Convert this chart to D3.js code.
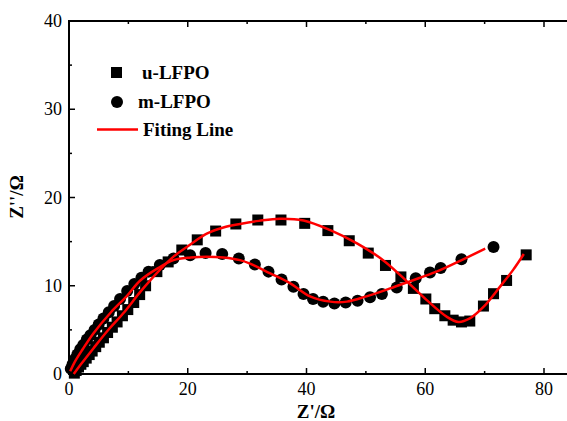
<!DOCTYPE html>
<html lang="en">
<head>
<meta charset="UTF-8">
<title>Nyquist plot</title>
<script src="https://cdnjs.cloudflare.com/ajax/libs/d3/7.8.5/d3.min.js"></script>
<style>
    body { margin: 0; background: #fff; }
    svg { display: block; }
    .tick-label { font-family: 'Liberation Serif', 'Times New Roman', serif; font-size: 18px; fill: #000; }
    .title { font-family: 'Liberation Serif', 'Times New Roman', serif; font-size: 19px; font-weight: bold; fill: #000; }
    .legend { font-family: 'Liberation Serif', 'Times New Roman', serif; font-size: 19px; font-weight: bold; fill: #000; }
</style>
</head>
<body>
<div id="chart"></div>
<script>
    // u-LFPO measured points (squares)
    const uX = [0.9, 1.2, 1.6, 2.0, 2.4, 2.9, 3.4, 3.9, 4.5, 5.1, 5.8, 6.5, 7.3, 8.1, 9.0, 9.9, 10.9, 11.9, 12.9, 14.8, 16.7, 19.0, 21.6, 24.7, 28.1, 31.8, 35.7, 39.7, 43.6, 47.2, 50.4, 53.3, 55.9, 58.0, 60.1, 61.6, 63.3, 64.7, 66.1, 67.5, 69.8, 71.5, 73.7, 77.0];
    const uY = [0.1, 0.4, 0.8, 1.1, 1.4, 1.8, 2.2, 2.6, 3.1, 3.6, 4.1, 4.7, 5.3, 5.9, 6.6, 7.3, 8.1, 9.0, 10.0, 11.6, 12.7, 14.05, 15.2, 16.2, 17.0, 17.45, 17.45, 17.07, 16.25, 15.1, 13.7, 12.3, 11.0, 9.7, 8.5, 7.4, 6.6, 6.1, 5.9, 6.0, 7.7, 9.1, 10.6, 13.5];

    // m-LFPO measured points (circles)
    const mX = [0.3, 0.6, 1.0, 1.4, 1.9, 2.4, 3.0, 3.6, 4.3, 5.0, 5.8, 6.7, 7.6, 8.6, 9.8, 11.0, 12.2, 13.4, 15.3, 17.6, 20.4, 23.0, 25.8, 28.6, 31.3, 33.6, 35.8, 37.8, 39.5, 41.1, 42.8, 44.7, 46.6, 48.6, 50.7, 52.7, 55.2, 58.4, 60.8, 62.6, 66.1, 71.5];
    const mY = [0.6, 1.1, 1.7, 2.2, 2.8, 3.3, 3.9, 4.4, 5.0, 5.6, 6.3, 7.0, 7.7, 8.5, 9.4, 10.2, 10.9, 11.6, 12.35, 13.1, 13.45, 13.7, 13.6, 13.1, 12.4, 11.6, 10.7, 9.9, 9.06, 8.5, 8.2, 8.0, 8.1, 8.3, 8.7, 9.06, 9.8, 10.85, 11.5, 12.0, 13.0, 14.4];

    // fitting lines
    const uFitX = [0.8, 2, 4.1, 6.5, 9.3, 12, 15.3, 17.6, 20.5, 23.2, 26, 28.8, 32, 35.5, 39.5, 44, 48.5, 52.9, 56.9, 60.2, 63.6, 65.6, 67.5, 69.8, 72.6, 74.8, 76.6];
    const uFitY = [0, 1.1, 2.9, 4.9, 7.0, 9.3, 11.8, 13.3, 14.7, 15.9, 16.6, 17.0, 17.35, 17.6, 17.4, 16.3, 14.8, 12.9, 10.5, 8.4, 6.5, 5.9, 6.3, 7.6, 9.9, 11.8, 13.6];
    const mFitX = [0.2, 1, 2.3, 4.1, 7.07, 9.7, 12, 15, 17.6, 20.5, 23.2, 26, 28.8, 30.5, 33.9, 37.2, 40.6, 44, 46.8, 50.1, 54.1, 57.4, 61.9, 66.4, 70.1];
    const mFitY = [0.3, 1.4, 2.8, 4.6, 7.0, 8.8, 10.6, 12.0, 12.9, 13.2, 13.3, 13.2, 12.9, 12.5, 11.4, 10.3, 8.8, 8.2, 8.2, 8.8, 9.7, 10.5, 11.6, 13.0, 14.2];

    const xMajor = [0, 20, 40, 60, 80];
    const xMinor = [10, 30, 50, 70];
    const yMajor = [0, 10, 20, 30, 40];
    const yMinor = [5, 15, 25, 35];

    const W = 567, H = 421;
    const plotLeft = 69, plotTop = 21, plotBottom = 374;
    const plotRight = plotLeft + 5.9375 * 90;

    const x = d3.scaleLinear().domain([0, 90]).range([plotLeft, plotRight]);
    const y = d3.scaleLinear().domain([0, 40]).range([plotBottom, plotTop]);

    const svg = d3.select("#chart").append("svg")
        .attr("width", W).attr("height", H);

    // frame
    svg.append("rect")
        .attr("x", plotLeft).attr("y", plotTop)
        .attr("width", plotRight - plotLeft).attr("height", plotBottom - plotTop)
        .attr("fill", "none").attr("stroke", "#000").attr("stroke-width", 2);

    // ticks (inward)
    const ticks = svg.append("g").attr("stroke", "#000").attr("stroke-width", 1.5);
    xMajor.forEach(v => {
        ticks.append("line").attr("x1", x(v)).attr("x2", x(v)).attr("y1", plotBottom).attr("y2", plotBottom - 6);
        ticks.append("line").attr("x1", x(v)).attr("x2", x(v)).attr("y1", plotTop).attr("y2", plotTop + 6);
    });
    xMinor.forEach(v => {
        ticks.append("line").attr("x1", x(v)).attr("x2", x(v)).attr("y1", plotBottom).attr("y2", plotBottom - 3);
        ticks.append("line").attr("x1", x(v)).attr("x2", x(v)).attr("y1", plotTop).attr("y2", plotTop + 3);
    });
    yMajor.forEach(v => {
        ticks.append("line").attr("x1", plotLeft).attr("x2", plotLeft + 6).attr("y1", y(v)).attr("y2", y(v));
    });
    yMinor.forEach(v => {
        ticks.append("line").attr("x1", plotLeft).attr("x2", plotLeft + 3).attr("y1", y(v)).attr("y2", y(v));
    });

    // tick labels
    svg.selectAll(".xl").data(xMajor).enter().append("text")
        .attr("class", "tick-label")
        .attr("x", d => x(d)).attr("y", 395)
        .attr("text-anchor", "middle")
        .text(d => d);
    svg.selectAll(".yl").data(yMajor).enter().append("text")
        .attr("class", "tick-label")
        .attr("x", 62).attr("y", d => y(d) + 6)
        .attr("text-anchor", "end")
        .text(d => d);

    // axis titles
    svg.append("text").attr("class", "title")
        .attr("x", 316).attr("y", 418)
        .attr("text-anchor", "middle")
        .text("Z'/\u03A9");
    svg.append("text").attr("class", "title")
        .attr("transform", "translate(23,197) rotate(-90)")
        .attr("text-anchor", "middle")
        .text("Z''/\u03A9");

    const plot = svg.append("g");

    const u = uX.map((v, i) => [v, uY[i]]);
    const m = mX.map((v, i) => [v, mY[i]]);
    const uFit = uFitX.map((v, i) => [v, uFitY[i]]);
    const mFit = mFitX.map((v, i) => [v, mFitY[i]]);

    // markers
    const sq = 11;
    plot.selectAll(".sq").data(u).enter().append("rect")
        .attr("x", d => x(d[0]) - sq / 2).attr("y", d => y(d[1]) - sq / 2)
        .attr("width", sq).attr("height", sq)
        .attr("fill", "#000");
    plot.selectAll(".ci").data(m).enter().append("circle")
        .attr("cx", d => x(d[0])).attr("cy", d => y(d[1]))
        .attr("r", 6)
        .attr("fill", "#000");

    // fit lines
    const line = d3.line()
        .x(d => x(d[0])).y(d => y(d[1]))
        .curve(d3.curveCatmullRom);
    [uFit, mFit].forEach(pts => {
        plot.append("path")
            .attr("d", line(pts))
            .attr("fill", "none")
            .attr("stroke", "#ff0000")
            .attr("stroke-width", 2.5);
    });

    // legend
    const lg = svg.append("g");
    lg.append("rect").attr("x", 111).attr("y", 67).attr("width", 11).attr("height", 11).attr("fill", "#000");
    lg.append("text").attr("class", "legend").attr("x", 142).attr("y", 79).text("u-LFPO");
    lg.append("circle").attr("cx", 117).attr("cy", 102).attr("r", 6).attr("fill", "#000");
    lg.append("text").attr("class", "legend").attr("x", 138).attr("y", 108).text("m-LFPO");
    lg.append("line").attr("x1", 97).attr("x2", 138).attr("y1", 129.5).attr("y2", 129.5)
        .attr("stroke", "#ff0000").attr("stroke-width", 2.5);
    lg.append("text").attr("class", "legend").attr("x", 143).attr("y", 136).text("Fiting Line");
</script>
</body>
</html>
